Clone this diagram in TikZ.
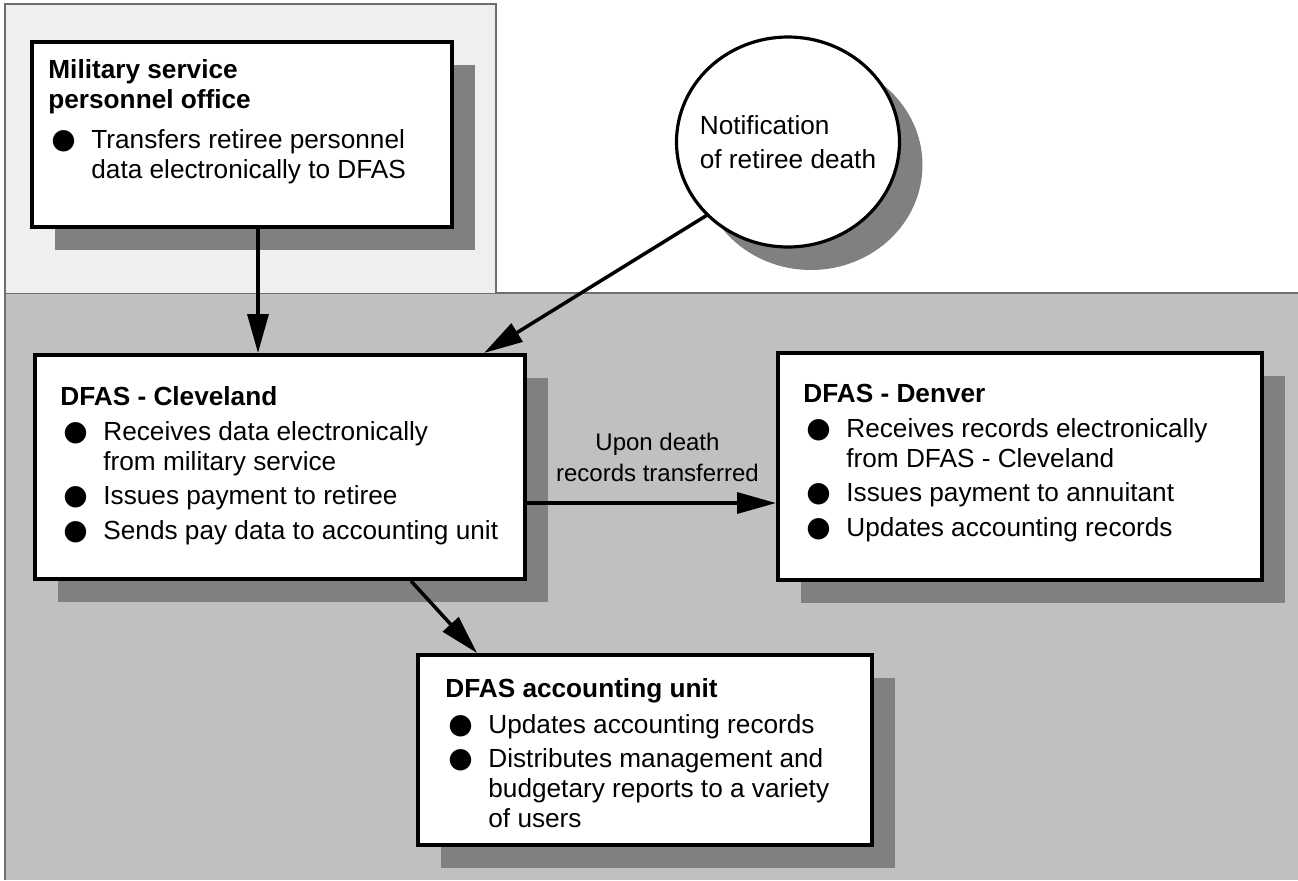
\documentclass[tikz,border=0pt]{standalone}
\usepackage{fontspec}
\setmainfont{Liberation Sans}
\newfontfamily\symfont{DejaVu Sans}
\usetikzlibrary{arrows.meta,shadows,shapes.geometric}

\definecolor{topbg}{HTML}{EFEFEF}
\definecolor{lowbg}{HTML}{C0C0C0}
\definecolor{shade}{HTML}{808080}
\definecolor{rim}{HTML}{6E6E6E}

\newcommand{\blt}{\makebox[21.5pt][l]{\hspace{1.5pt}{\fontsize{14}{14}\symfont ●}}}

\tikzset{
  card/.style={draw, line width=2pt, fill=white, anchor=north west, inner sep=0pt,
    drop shadow={shadow xshift=11.5pt, shadow yshift=-11.5pt, fill=shade, opacity=1}},
  cardtext/.style={anchor=base west, inner sep=0pt, font=\fontsize{13.1}{15}\selectfont},
  flowlabel/.style={inner sep=0pt, align=center, font=\fontsize{12}{15.5}\selectfont},
  link/.style={line width=1.75pt, -{Triangle[length=19.5pt, width=10.5pt]}},
}

\begin{document}
\begin{tikzpicture}[x=0.5pt, y=-0.5pt]
        \useasboundingbox (0,0) rectangle (1298,880);

        % two areas
        \fill[lowbg] (5,293) rectangle (1298,880);
        \draw[rim, line width=0.75pt] (5,880) -- (5,293) -- (1298,293);
        \fill[topbg] (5,4) rectangle (496,293);
        \draw[rim, line width=0.75pt] (5,293) -- (5,4) -- (496,4) -- (496,293);

        % boxes
        \node[card, minimum width=210pt, minimum height=92.5pt] (military) at (30,40) {};
        \node[cardtext] (military-txt) at (48,78) {\begin{tabular}[t]{@{}l@{}l@{}}
            \multicolumn{2}{@{}l@{}}{\bfseries Military service}\\
            \multicolumn{2}{@{}l@{}}{\bfseries personnel office}\\[5pt]
            \blt & Transfers retiree personnel\\
                 & data electronically to DFAS
          \end{tabular}};

        \node[card, ellipse, line width=1.6pt, minimum width=111.5pt, minimum height=105pt,
          anchor=center] (notif) at (788,142) {};
        \node[align=left, inner sep=0pt, font=\fontsize{13.1}{17}\selectfont] (notif-txt)
          at (notif.center) {Notification\\of retiree death};

        \node[card, minimum width=245pt, minimum height=112pt] (cleveland) at (33,353) {};
        \node[cardtext] (cleveland-txt) at (60,405) {\begin{tabular}[t]{@{}l@{}l@{}}
            \multicolumn{2}{@{}l@{}}{\bfseries DFAS - Cleveland}\\[2.5pt]
            \blt & Receives data electronically\\
                 & from military service\\[2.25pt]
            \blt & Issues payment to retiree\\[2.25pt]
            \blt & Sends pay data to accounting unit
          \end{tabular}};

        \node[card, minimum width=242pt, minimum height=113.5pt] (denver) at (776,351) {};
        \node[cardtext] (denver-txt) at (803,402) {\begin{tabular}[t]{@{}l@{}l@{}}
            \multicolumn{2}{@{}l@{}}{\bfseries DFAS - Denver}\\[2.5pt]
            \blt & Receives records electronically\\
                 & from DFAS - Cleveland\\[2.25pt]
            \blt & Issues payment to annuitant\\[2.25pt]
            \blt & Updates accounting records
          \end{tabular}};

        \node[card, minimum width=227pt, minimum height=95pt] (account) at (416,653) {};
        \node[cardtext] (account-txt) at (445,697) {\begin{tabular}[t]{@{}l@{}l@{}}
            \multicolumn{2}{@{}l@{}}{\bfseries DFAS accounting unit}\\[3pt]
            \blt & Updates accounting records\\[2pt]
            \blt & Distributes management and\\
                 & budgetary reports to a variety\\
                 & of users
          \end{tabular}};

        % flows
        \draw[link] ([xshift=8pt]military.south) -- ([xshift=8pt]military.south |- cleveland.north);
        \draw[link] (notif.222) -- ([xshift=-21.5pt]cleveland.north east);
        \draw[link] ([yshift=-18pt]cleveland.east) -- ([yshift=-18pt]cleveland.east -| denver.west)
          node[midway, above=10pt, xshift=3pt, flowlabel] (transfer-lbl) {Upon death\\records transferred};
        \draw[link] ([xshift=65.5pt]cleveland.south) -- ([xshift=30.5pt]account.north west);
    \end{tikzpicture}
\end{document}
